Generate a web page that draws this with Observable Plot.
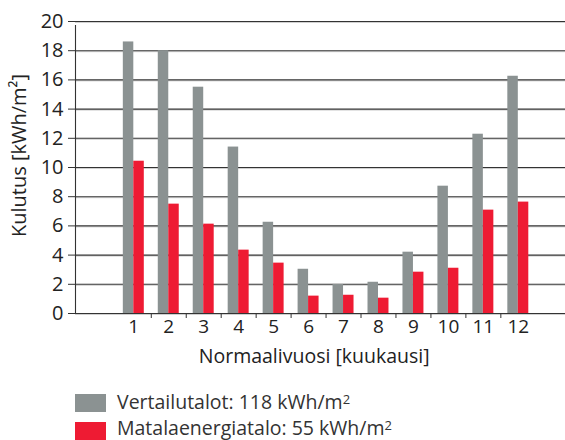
<!DOCTYPE html>
<html><head><meta charset="utf-8">
<script src="https://cdn.jsdelivr.net/npm/d3@7"></script>
<script src="https://cdn.jsdelivr.net/npm/@observablehq/plot@0.6"></script>
<style>
body{margin:0;background:#fff;font-family:"Open Sans",sans-serif;color:#222;}
#legend{position:relative;width:565px;height:70px;}
.sw{position:absolute;left:75px;width:31px;height:18px;}
.lt{position:absolute;left:117px;font-size:19.5px;line-height:20px;white-space:nowrap;color:#333;}
.lt sup{font-size:13px;position:relative;top:-3px;vertical-align:top;}
</style></head><body>
<div id="chart"></div>
<div id="legend"></div>
<script>
const months = [1,2,3,4,5,6,7,8,9,10,11,12];
const vertailutalot = [18.6,18.0,15.5,11.4,6.25,3.03,1.99,2.14,4.2,8.72,12.28,16.25];
const matalaenergiatalo = [10.43,7.49,6.12,4.34,3.45,1.19,1.25,1.05,2.83,3.1,7.08,7.63];
const seriesNames = ["Vertailutalot","Matalaenergiatalo"];
const seriesTotals = [118,55];
const seriesColors = ["#8b9292","#ee1b33"];
const yTicks = [0,2,4,6,8,10,12,14,16,18,20];
const xLabel = "Normaalivuosi [kuukausi]";
const yLabel = "Kulutus [kWh/m²]";

const data = [];
months.forEach((m,i)=>{
  data.push({month:m, series:seriesNames[0], value:vertailutalot[i]});
  data.push({month:m, series:seriesNames[1], value:matalaenergiatalo[i]});
});
const barW = 0.3;
const sepTicks = months.slice(0,-1).map(m=>m+0.5);

const chart = Plot.plot({
  width:565, height:370,
  marginTop:21, marginBottom:57, marginLeft:75, marginRight:0,
  style:{fontFamily:'"Open Sans",sans-serif', fontSize:"20px", color:"#222", background:"#fff"},
  x:{type:"linear", domain:[-0.668,13.35]},
  y:{domain:[0,20]},
  color:{domain:seriesNames, range:seriesColors},
  marks:[
    Plot.ruleY(yTicks,{y:d=>d, stroke:"#d0d0d0", strokeWidth:1, dy:1}),
    Plot.ruleY(yTicks,{y:d=>d, stroke:"#333", strokeWidth:1.1}),
    Plot.axisY({ticks:yTicks, tickSize:7, tickPadding:5, stroke:"#333", fontSize:20, label:null}),
    Plot.rectY(data,{
      x1:d=>d.series===seriesNames[0]? d.month-barW : d.month,
      x2:d=>d.series===seriesNames[0]? d.month : d.month+barW,
      y1:0, y2:"value", fill:"series"
    }),
    Plot.ruleX([-0.668],{y1:0, y2:20, stroke:"#333", strokeWidth:1.1, insetBottom:-4}),
    Plot.axisX({ticks:sepTicks, tickSize:5, text:null, stroke:"#333", label:null}),
    Plot.axisX({ticks:months, tickSize:0, tickPadding:6, tickFormat:d=>String(d), fontSize:19, label:null}),
    Plot.text([xLabel],{frameAnchor:"bottom", x:6.16, dy:49, fontSize:19.5, text:d=>d, lineAnchor:"bottom", textAnchor:"middle"}),
    Plot.text([yLabel],{frameAnchor:"left", dx:-56, dy:-12, rotate:-90, fontSize:20, text:d=>d, textAnchor:"middle"})
  ]
});
document.getElementById("chart").appendChild(chart);

const legend = document.getElementById("legend");
seriesNames.forEach((name,i)=>{
  const sw = document.createElement("div");
  sw.className="sw"; sw.style.background=seriesColors[i]; sw.style.top=(24+i*28)+"px";
  legend.appendChild(sw);
  const t = document.createElement("div");
  t.className="lt"; t.style.top=(22+i*26)+"px";
  t.innerHTML = `${name}: ${seriesTotals[i]} kWh/m<sup>2</sup>`;
  legend.appendChild(t);
});
</script>
</body></html>
